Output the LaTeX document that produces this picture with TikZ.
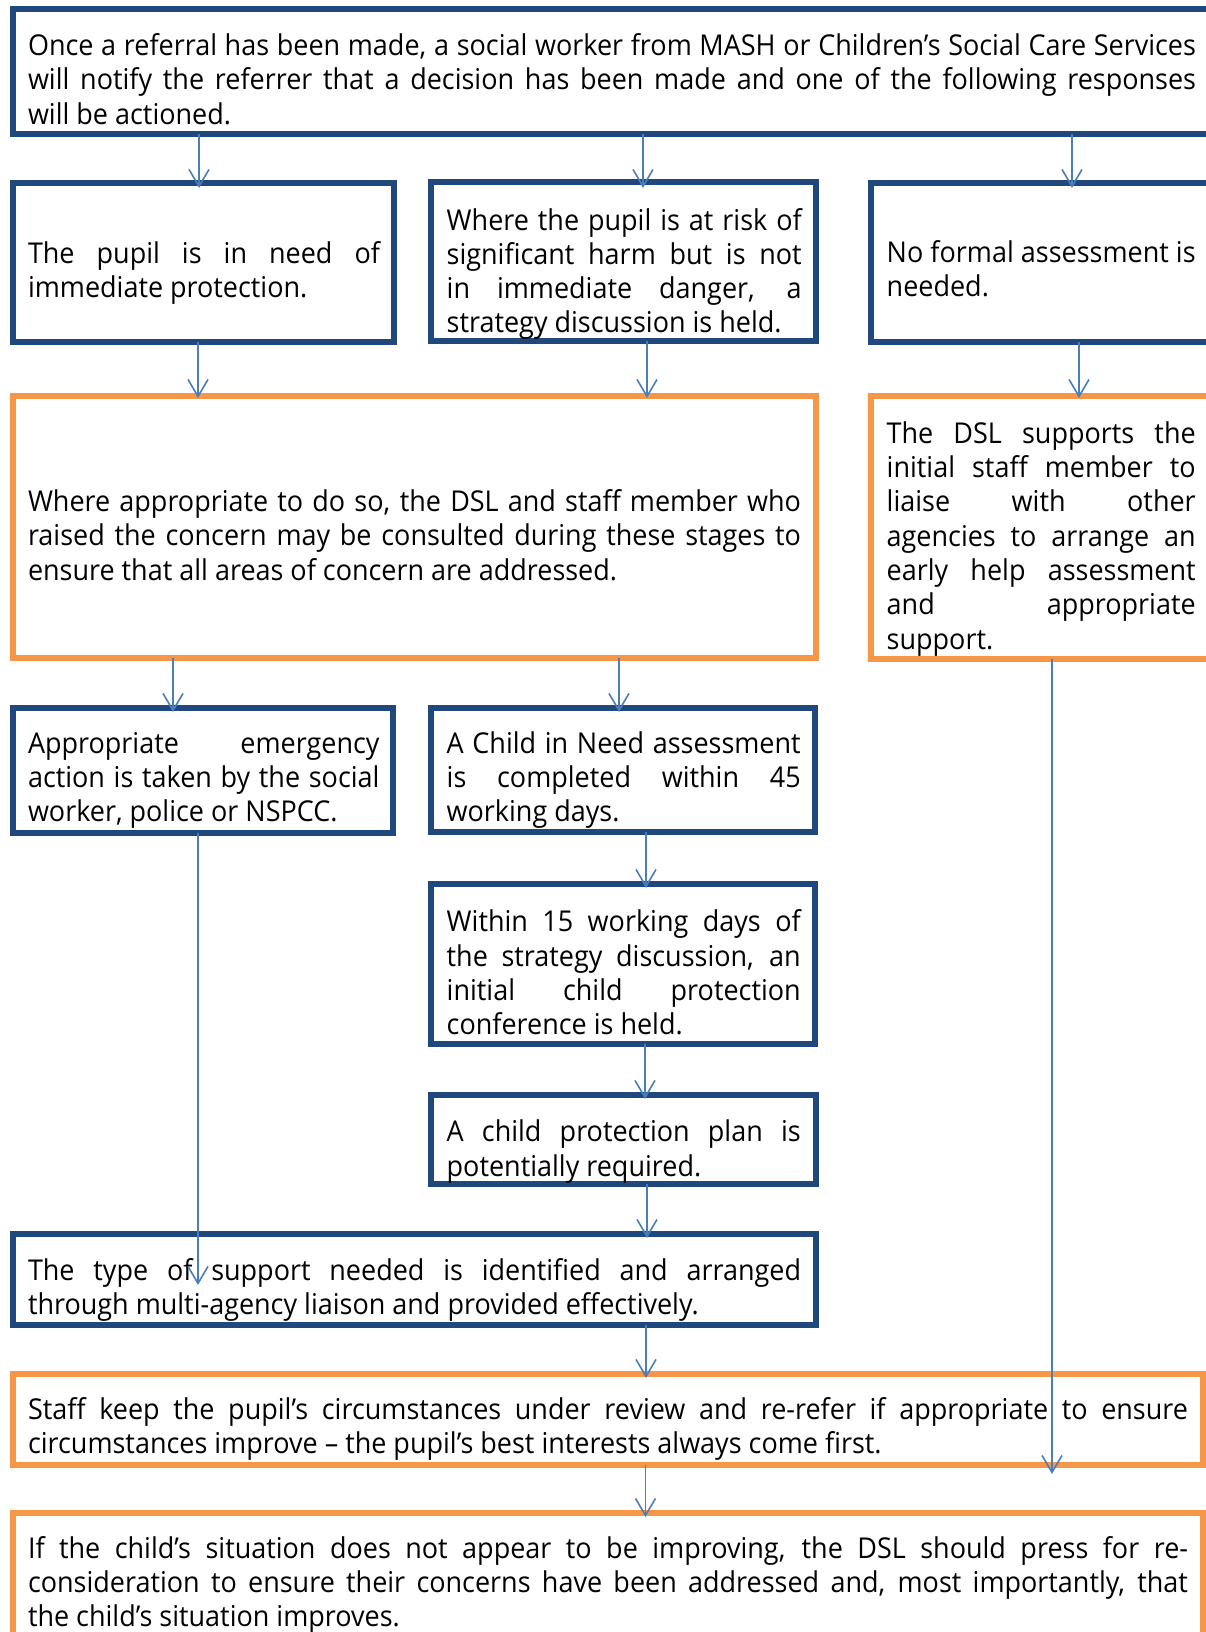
\documentclass[tikz,border=0pt]{standalone}
\usepackage{fontspec}
\setmainfont{Open Sans}[FakeStretch=0.94]
\usetikzlibrary{arrows.meta}
\definecolor{boxblue}{HTML}{1F497D}
\definecolor{boxorange}{HTML}{F79646}
\definecolor{arrowblue}{HTML}{4A7EBB}
\newcommand\fs{\fontsize{28.7pt}{34.3pt}\selectfont}
\newcommand\jline[1]{\hbox to \hsize{#1}}
\newcommand\lline[1]{\hbox{#1}}
\newcommand\tb[2]{\vtop{\hsize=#1\fs\relax #2}}
\begin{document}
\begin{tikzpicture}[x=1pt,y=-1pt,
  bluebox/.style={draw=boxblue, line width=6pt, rectangle, inner sep=0pt, outer sep=0pt, line join=miter},
  orangebox/.style={draw=boxorange, line width=6pt, rectangle, inner sep=0pt, outer sep=0pt, line join=miter},
  txt/.style={anchor=base west, inner sep=0pt, outer sep=0pt},
  arr/.style={draw=arrowblue, line width=1.6pt, -{Straight Barb[length=17pt,width=20pt,line width=1.6pt]}}]
\useasboundingbox (0,0) rectangle (1206,1632);
\clip (0,0) rectangle (1206,1632);
\fill[white] (0,0) rectangle (1206,1632);
% boxes
\node[bluebox, minimum width=1200pt, minimum height=125pt] (top) at (613,71.5) {};
\node[bluebox, minimum width=381pt, minimum height=159pt] (pupil) at (203.5,262.5) {};
\node[bluebox, minimum width=385pt, minimum height=159pt] (mid) at (623.5,261.5) {};
\node[bluebox, minimum width=342pt, minimum height=159pt] (noformal) at (1042,262.5) {};
\node[orangebox, minimum width=803pt, minimum height=262pt] (owide) at (414.5,527) {};
\node[orangebox, minimum width=342pt, minimum height=263pt] (dsl) at (1042,527.5) {};
\node[bluebox, minimum width=380pt, minimum height=125pt] (emerg) at (203,770.5) {};
\node[bluebox, minimum width=384pt, minimum height=124pt] (cin) at (623,770) {};
\node[bluebox, minimum width=384pt, minimum height=160pt] (within) at (623,964) {};
\node[bluebox, minimum width=385pt, minimum height=89pt] (plan) at (623.5,1139.5) {};
\node[bluebox, minimum width=803pt, minimum height=91pt] (support) at (414.5,1279.5) {};
\node[orangebox, minimum width=1190pt, minimum height=91pt] (staff) at (608,1419.5) {};
\node[orangebox, minimum width=1190pt, minimum height=137pt] (last) at (608,1581.5) {};
% texts
\node[txt] (ttop) at (28,55.5) {\tb{1168pt}{%
\jline{Once a referral has been made, a social worker from MASH or Children’s Social Care Services}
\jline{will notify the referrer that a decision has been made and one of the following responses}
\lline{will be actioned.}}};
\node[txt] (tpupil) at (28,263.3) {\tb{352pt}{%
\jline{The pupil is in need of}
\lline{immediate protection.}}};
\node[txt] (tmid) at (446.7,230) {\tb{355pt}{%
\jline{Where the pupil is at risk of}
\jline{significant harm but is not}
\jline{in immediate danger, a}
\lline{strategy discussion is held.}}};
\node[txt] (tnoformal) at (886.7,262.5) {\tb{309pt}{%
\jline{No formal assessment is}
\lline{needed.}}};
\node[txt] (towide) at (28,511.5) {\tb{773pt}{%
\jline{Where appropriate to do so, the DSL and staff member who}
\jline{raised the concern may be consulted during these stages to}
\lline{ensure that all areas of concern are addressed.}}};
\node[txt] (tdsl) at (886.7,443.3) {\tb{309pt}{%
\jline{The DSL supports the}
\jline{initial staff member to}
\jline{liaise with other}
\jline{agencies to arrange an}
\jline{early help assessment}
\jline{and appropriate}
\lline{support.}}};
\node[txt] (temerg) at (28,753.3) {\tb{351.5pt}{%
\jline{Appropriate emergency}
\jline{action is taken by the social}
\lline{worker, police or NSPCC.}}};
\node[txt] (tcin) at (446.7,753.3) {\tb{354pt}{%
\jline{A Child in Need assessment}
\jline{is completed within 45}
\lline{working days.}}};
\node[txt] (twithin) at (446.7,931.7) {\tb{354pt}{%
\jline{Within 15 working days of}
\jline{the strategy discussion, an}
\jline{initial child protection}
\lline{conference is held.}}};
\node[txt] (tplan) at (446.7,1141.7) {\tb{354pt}{%
\jline{A child protection plan is}
\lline{potentially required.}}};
\node[txt] (tsupport) at (28,1280) {\tb{773pt}{%
\jline{The type of support needed is identified and arranged}
\lline{through multi-agency liaison and provided effectively.}}};
\node[txt] (tstaff) at (28,1419.3) {\tb{1160pt}{%
\jline{Staff keep the pupil’s circumstances under review and re-refer if appropriate to ensure}
\lline{circumstances improve – the pupil’s best interests always come first.}}};
\node[txt] (tlast) at (28,1558.3) {\tb{1160pt}{%
\jline{If the child’s situation does not appear to be improving, the DSL should press for re-}
\jline{consideration to ensure their concerns have been addressed and, most importantly, that}
\lline{the child’s situation improves.}}};
% connectors
\draw[arr] (199,0 |- top.south) -- ([yshift=-5pt]199,0 |- pupil.north);
\draw[arr] (643,0 |- top.south) -- ([yshift=-6pt]643,0 |- mid.north);
\draw[arr] (1072,0 |- top.south) -- ([yshift=-5pt]1072,0 |- noformal.north);
\draw[arr] (198,0 |- pupil.south) -- ([yshift=-2pt]198,0 |- owide.north);
\draw[arr] (647,0 |- mid.south) -- ([yshift=-2pt]647,0 |- owide.north);
\draw[arr] (1079,0 |- noformal.south) -- ([yshift=-2pt]1079,0 |- dsl.north);
\draw[arr] (173,0 |- owide.south) -- ([yshift=-4pt]173,0 |- emerg.north);
\draw[arr] (619,0 |- owide.south) -- ([yshift=-4pt]619,0 |- cin.north);
\draw[arr] (646,0 |- cin.south) -- ([yshift=-4pt]646,0 |- within.north);
\draw[arr] (645,0 |- within.south) -- ([yshift=-4pt]645,0 |- plan.north);
\draw[arr] (647,0 |- plan.south) -- ([yshift=-4pt]647,0 |- support.north);
\draw[arr] (646,0 |- support.south) -- ([yshift=-4pt]646,0 |- staff.north);
\draw[arr] (645.5,0 |- staff.south) -- ([yshift=-4pt]645.5,0 |- last.north);
\draw[arr] (198,0 |- emerg.south) -- ([yshift=-51pt]198,0 |- support.north);
\draw[arr] (1052,0 |- dsl.south) -- ([yshift=-9pt]1052,0 |- staff.south);
\end{tikzpicture}
\end{document}
